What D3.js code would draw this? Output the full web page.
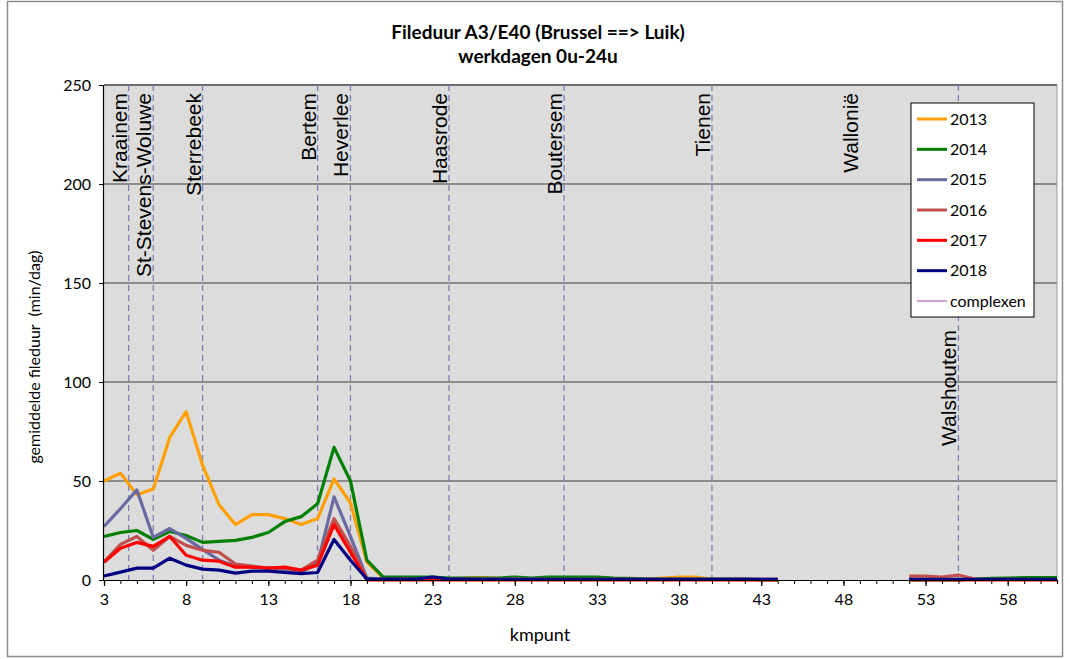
<!DOCTYPE html>
<html><head><meta charset="utf-8">
<script src="https://cdn.jsdelivr.net/npm/d3@7"></script>
<style>
html,body{margin:0;padding:0;background:#fff;}
svg{display:block;}
</style></head>
<body>
<svg id="chart" width="1070" height="659"></svg>
<script>
const kmpunten = [3,4,5,6,7,8,9,10,11,12,13,14,15,16,17,18,19,20,21,22,23,24,25,26,27,28,29,30,31,32,33,34,35,36,37,38,39,40,41,42,43,44,45,46,47,48,49,50,51,52,53,54,55,56,57,58,59,60,61];
const N = null;
const s2013 = [50,54,43,46,72,85,58,38,28,33,33,31,28,31,51,39,9,1,1,1,1,0.5,1,1.2,0.8,0.5,0.5,0.5,0.5,0.5,0.5,0.3,0.3,0.5,1,1.5,1.5,0.5,0.3,0.2,0.2,0,N,N,N,N,N,N,N,N,N,N,N,N,N,N,N,N,N];
const s2014 = [22,24,25,20.5,24.5,22.5,19,19.5,20,21.5,24,29.5,32,38.5,67,50,10,1.5,1.5,1.5,1.5,1,1,1,1,1.5,1,1.5,1.5,1.5,1.5,1,0.8,0.5,0.5,0.5,0.5,0.5,0.5,0.5,0,0,N,N,N,N,N,N,N,0,0,0,0,0.5,0.8,1,1.2,1.2,1.2];
const s2015 = [27,36,45.5,21.5,26,21,15.5,10,7,6.5,6,5,4,8.5,42,22,1,0.5,0.5,0.5,1.5,0.5,0.5,0.5,0.5,0.5,0.5,0.3,0.3,0.3,0.3,0.3,0.3,0.3,0.3,0.3,0.3,0.3,0.5,0.5,0.3,0.3,N,N,N,N,N,N,N,N,N,N,N,N,N,N,N,N,N];
const s2016 = [9,18,22,15,22,17.5,15,14,8,7,6,6,5,10,31,17,0.5,0.3,0.3,0.3,0.3,0.3,0.3,0.3,0.3,0.3,0.3,0.3,0.3,0.3,0.3,0.3,0.3,0.3,0.3,0.3,0.3,0.3,0.3,0.3,0.3,0.3,N,N,N,N,N,N,N,2,2,1.5,2.5,0.5,0.3,0.3,0.3,0.3,0.3];
const s2017 = [9,16,19,17,22,12.5,10,9.5,6.5,6.5,6,6.5,5,7.5,28,14,0,0,0,0,0,0,0,0,0,0,0,0,0,0,0,0,0,0,0,0,0,0,0,0,0,0,N,N,N,N,N,N,N,0,0,0,0,0,0,0,0,0,0];
const s2018 = [2,4,6,6,11,7.5,5.5,5,3.5,4.5,4.5,3.8,3.2,3.8,20.5,10,0.5,0.5,0.5,0.5,1.5,0.5,0.5,0.3,0.3,0.3,0.3,0.3,0.3,0.3,0.3,0.3,0.3,0.3,0.3,0.3,0.3,0.3,0.3,0.3,0.3,0.3,N,N,N,N,N,N,N,0.3,0.3,0.3,0.3,0.3,0.3,0.3,0.3,0.3,0.3];
const seriesNames = ["2013","2014","2015","2016","2017","2018"];
const seriesColors = ["#ff9f00","#008000","#6a6aa3","#c0504d","#ff0000","#000080"];
const complexNames = ["Kraainem","St-Stevens-Woluwe","Sterrebeek","Bertem","Heverlee","Haasrode","Boutersem","Tienen","Wallonië","Walshoutem"];
const complexKm = [4.5,6,9,16,18,24,31,40,49,55];
const complexLine = [true,true,true,true,true,true,true,true,false,true];
const yTicks = [0,50,100,150,200,250];
const xTickLabels = [3,8,13,18,23,28,33,38,43,48,53,58];
const seriesData = [s2013,s2014,s2015,s2016,s2017,s2018];

const svg = d3.select("#chart");
const L = 104, R = 1057, T = 85, B = 580;
const x = d3.scaleLinear().domain([3,61]).range([L,R]);
const y = d3.scaleLinear().domain([0,250]).range([B,T]);
const FONT = "Lato, 'Open Sans', sans-serif";

// outer border
svg.append("rect").attr("x",7.5).attr("y",1.5).attr("width",1055).attr("height",655)
  .attr("fill","#fff").attr("stroke","#8c8c8c").attr("stroke-width",1.5);

// plot background
svg.append("rect").attr("x",L).attr("y",T).attr("width",R-L).attr("height",B-T).attr("fill","#dcdcdc");

// gridlines
svg.append("g").selectAll("line").data(yTicks.filter(d=>d>0 && d<250)).join("line")
  .attr("x1",L).attr("x2",R).attr("y1",d=>y(d)).attr("y2",d=>y(d))
  .attr("stroke","#3a3a3a").attr("stroke-width",1);

// plot border top/right
svg.append("line").attr("x1",L).attr("x2",R).attr("y1",T).attr("y2",T).attr("stroke","#6e6e6e").attr("stroke-width",2);
svg.append("line").attr("x1",R).attr("x2",R).attr("y1",T).attr("y2",B).attr("stroke","#9a9a9a").attr("stroke-width",1);

// complexen dashed lines
svg.append("g").selectAll("line").data(complexKm.filter((d,i)=>complexLine[i])).join("line")
  .attr("x1",d=>x(d)).attr("x2",d=>x(d)).attr("y1",T).attr("y2",B)
  .attr("stroke","#8080b0").attr("stroke-width",1.3).attr("stroke-dasharray","6,4");

// labels
const labelEndY = [93,93,93,93,93,93,93,93,93,330];
svg.append("g").selectAll("text").data(complexNames).join("text")
  .attr("transform",(d,i)=>`translate(${x(complexKm[i])-2},${labelEndY[i]}) rotate(-90)`)
  .attr("text-anchor","end")
  .attr("font-family","'Liberation Sans', Arial, sans-serif").attr("font-size",21)
  .attr("fill","#000").text(d=>d);

// series lines
const line = d3.line().defined(d=>d[1]!=null).x(d=>x(d[0])).y(d=>y(d[1]));
seriesData.forEach((s,i)=>{
  svg.append("path").datum(kmpunten.map((k,j)=>[k,s[j]]))
    .attr("d",line).attr("fill","none").attr("stroke",seriesColors[i])
    .attr("stroke-width",3.2).attr("stroke-linejoin","round");
});

// y axis
const yAxis = d3.axisLeft(y).tickValues(yTicks).tickSize(5).tickPadding(8);
const gy = svg.append("g").attr("transform",`translate(${L},0)`).call(yAxis);
gy.select(".domain").attr("stroke","#000").attr("stroke-width",1.2).attr("d",`M-0.5,${T}V${B}`);
gy.selectAll(".tick line").attr("stroke","#000");
gy.selectAll("text").attr("font-family",FONT).attr("font-size",16).attr("fill","#000");

// x axis
const xMinor = d3.axisBottom(x).tickValues(kmpunten).tickSize(4).tickFormat("");
const gxm = svg.append("g").attr("transform",`translate(0,${B})`).call(xMinor);
gxm.select(".domain").attr("stroke","#000").attr("stroke-width",1.2);
gxm.selectAll(".tick line").attr("stroke","#000");
const xAxis = d3.axisBottom(x).tickValues(xTickLabels).tickSize(6).tickPadding(8).tickFormat(d3.format("d"));
const gx = svg.append("g").attr("transform",`translate(0,${B})`).call(xAxis);
gx.select(".domain").remove();
gx.selectAll(".tick line").attr("stroke","#000").attr("stroke-width",1.2);
gx.selectAll("text").attr("font-family",FONT).attr("font-size",16).attr("fill","#000");

// titles
svg.append("text").attr("x",538).attr("y",39).attr("text-anchor","middle")
  .attr("font-family",FONT).attr("font-weight","bold").attr("font-size",19).text("Fileduur A3/E40 (Brussel ==> Luik)");
svg.append("text").attr("x",538).attr("y",63).attr("text-anchor","middle")
  .attr("font-family",FONT).attr("font-weight","bold").attr("font-size",19).text("werkdagen 0u-24u");
svg.append("text").attr("x",540).attr("y",641).attr("text-anchor","middle")
  .attr("font-family",FONT).attr("font-size",18).text("kmpunt");
svg.append("text").attr("transform","translate(40,357) rotate(-90)").attr("text-anchor","middle")
  .attr("font-family",FONT).attr("font-size",16).attr("xml:space","preserve").text("gemiddelde fileduur  (min/dag)");

// legend
const lg = svg.append("g");
lg.append("rect").attr("x",911).attr("y",103).attr("width",123).attr("height",214)
  .attr("fill","#fff").attr("stroke","#000").attr("stroke-width",1);
const legNames = seriesNames.concat(["complexen"]);
const legColors = seriesColors.concat(["#c080c0"]);
const legY = d3.scalePoint().domain(legNames).range([119,301]);
legNames.forEach((n,i)=>{
  lg.append("line").attr("x1",917).attr("x2",947).attr("y1",legY(n)).attr("y2",legY(n))
    .attr("stroke",legColors[i]).attr("stroke-width",n==="complexen"?1.5:3);
  lg.append("text").attr("x",950).attr("y",legY(n)+5.5).attr("font-family",FONT).attr("font-size",16)
    .attr("fill","#000").text(n);
});
</script>
</body></html>
